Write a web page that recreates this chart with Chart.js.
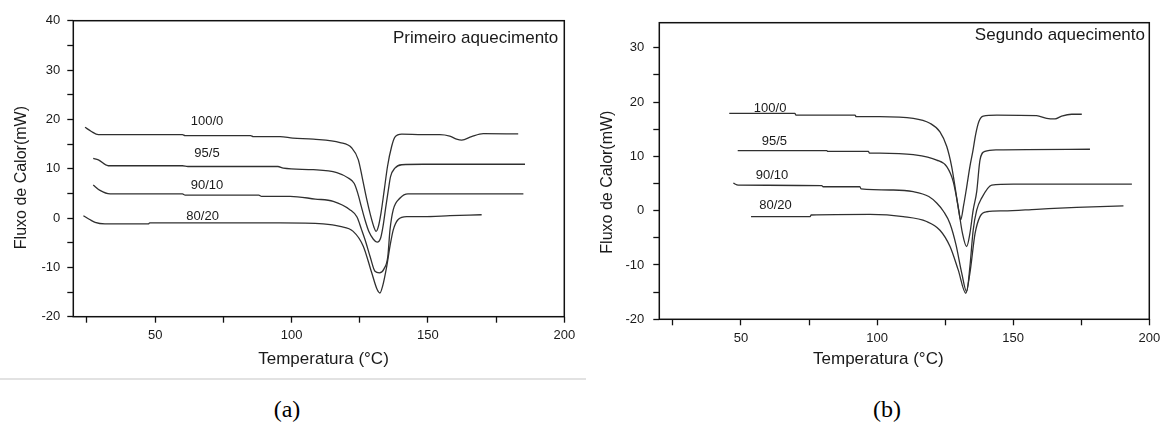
<!DOCTYPE html>
<html>
<head>
<meta charset="utf-8">
<script src="https://cdn.jsdelivr.net/npm/chart.js@4.4.1/dist/chart.umd.min.js"></script>
<style>
html,body{margin:0;padding:0;background:#fff;width:1161px;height:428px;overflow:hidden;position:relative;}
#ca{position:absolute;left:0;top:0;}
#cb{position:absolute;left:590px;top:0;}
.sep{position:absolute;left:0;top:378px;width:586px;height:2px;background:#e2e2e2;}
.cap{position:absolute;top:396px;width:80px;text-align:center;font-family:"Liberation Serif","Times New Roman",serif;font-size:24px;color:#000;}
</style>
</head>
<body>
<canvas id="ca" width="590" height="378"></canvas>
<canvas id="cb" width="580" height="378"></canvas>
<div class="sep"></div>
<div class="cap" style="left:247px">(a)</div>
<div class="cap" style="left:847px">(b)</div>
<script>
// ---------- data ----------
const seriesNames = ['100/0', '95/5', '90/10', '80/20'];

// (a) Primeiro aquecimento
const a100T = [24.3, 26.5, 29.2, 60, 61, 85, 86, 95.8, 100.5, 108, 117.8, 122.1, 124.5, 126.0, 127.5, 129.0, 130.2, 131.0, 131.8, 132.8, 134.0, 135.2, 136.7, 137.9, 140.4, 148, 154.4, 158, 160.5, 162.4, 166, 170.3, 183.1];
const a100F = [18.4, 17.6, 16.9, 16.9, 16.7, 16.7, 16.5, 16.5, 16.2, 16.0, 15.3, 14.2, 11.8, 8.0, 4.0, 0.5, -1.8, -2.7, -1.8, 1.0, 5.7, 10.5, 14.5, 16.4, 17.0, 16.9, 16.9, 16.6, 16.0, 15.8, 16.5, 17.1, 17.05];
const a95T = [27.3, 29.2, 32.8, 60, 62, 95, 97, 108, 116.6, 120.8, 123.0, 124.3, 125.6, 127.0, 128.4, 130.0, 131.4, 132.7, 133.6, 134.5, 135.5, 136.3, 137.9, 140.4, 148.3, 185.6];
const a95F = [12.1, 11.8, 10.6, 10.6, 10.45, 10.45, 10.1, 9.8, 9.2, 8.1, 7.0, 5.0, 2.3, -0.5, -2.8, -4.3, -4.9, -4.0, -1.5, 2.0, 5.7, 8.4, 10.1, 10.8, 10.9, 10.9];
const a90T = [27.3, 29.8, 33.5, 60, 61, 88, 89, 99.5, 108.7, 115.3, 121.4, 124.0, 125.7, 127.3, 128.8, 130.6, 132.2, 133.9, 135.3, 136.1, 137.3, 139.8, 142.7, 185.0];
const a90F = [6.7, 5.6, 4.9, 4.9, 4.65, 4.65, 4.4, 4.4, 3.85, 3.4, 1.7, 0.2, -2.4, -5.0, -7.8, -10.8, -11.1, -10.3, -7.8, -2.4, 1.7, 4.05, 4.9, 4.9];
const a80T = [23.7, 26, 28, 31.6, 47.5, 48, 95.8, 111.6, 117.8, 122.6, 126.3, 129.4, 131.4, 132.4, 133.4, 134.9, 136.1, 137.3, 139.1, 142.2, 148.3, 158.1, 169.7];
const a80F = [0.47, -0.3, -0.9, -1.2, -1.2, -1.0, -1.0, -1.2, -1.7, -2.7, -5.7, -11.1, -14.5, -15.2, -13.8, -9.8, -5.7, -2.4, -0.3, 0.3, 0.3, 0.47, 0.67];
const aLabelT = [69, 69, 69, 67.4];
const aLabelF = [19.5, 13.0, 6.6, 0.3];

// (b) Segundo aquecimento
const b100T = [45.7, 69.8, 70.2, 91.9, 92.3, 101, 113.3, 119.4, 123.1, 125.6, 127.4, 129.0, 130.0, 130.7, 131.8, 132.9, 134.1, 135.2, 136.2, 137.4, 139.0, 144.0, 158.6, 162.3, 165.4, 167.8, 171.5, 175.2];
const b100F = [17.9, 17.9, 17.6, 17.6, 17.3, 17.3, 17.0, 16.1, 14.5, 11.8, 8.1, 3.2, 0.0, -1.7, 1.0, 4.3, 8.1, 11.0, 14.0, 16.4, 17.4, 17.6, 17.5, 17.0, 16.9, 17.4, 17.75, 17.75];
const b95T = [48.8, 81.5, 81.9, 96.8, 97.2, 101, 113.3, 121.9, 125.6, 128.0, 129.8, 131.3, 132.9, 134.1, 135.3, 136.6, 137.8, 139.6, 144.0, 178.2];
const b95F = [11.05, 11.05, 10.9, 10.9, 10.6, 10.6, 10.3, 9.3, 8.1, 5.3, 0.7, -4.0, -6.6, -4.2, 0.1, 3.5, 9.3, 10.9, 11.2, 11.3];
const b90T = [47.2, 49.0, 79.7, 80.1, 93.7, 94.1, 106, 113.3, 119.0, 121.9, 124.5, 126.8, 129.0, 131.1, 132.9, 134.1, 135.3, 136.6, 138.4, 142.1, 150.1, 193.6];
const b90F = [5.05, 4.7, 4.6, 4.4, 4.4, 4.0, 3.8, 3.5, 2.6, 1.4, -0.2, -2.4, -6.3, -11.5, -14.9, -10.3, -3.6, 0.1, 2.3, 4.7, 4.9, 4.9];
const b80T = [53.7, 75.4, 75.8, 97.4, 109.6, 118.2, 123.1, 126.8, 129.8, 132.6, 134.1, 136.0, 137.8, 140.3, 146.4, 158.6, 173.3, 190.5];
const b80F = [-1.1, -1.1, -0.8, -0.7, -1.1, -2.0, -3.6, -6.6, -10.9, -15.2, -11.5, -4.2, -1.1, -0.2, -0.05, 0.25, 0.6, 0.87];
const bLabelT = [60.7, 62.3, 61.4, 62.7];
const bLabelF = [18.9, 12.8, 6.5, 0.9];

// ticks
const xTickVals = [25, 50, 75, 100, 125, 150, 175, 200];
const yTickValsA = [-20, -15, -10, -5, 0, 5, 10, 15, 20, 25, 30, 35, 40];
const yTickValsB = [-20, -15, -10, -5, 0, 5, 10, 15, 20, 25, 30];

// ---------- helpers ----------
const FONT = '"Liberation Sans", Arial, sans-serif';
const INK = '#1a1a1a';
const pts = (t, f) => t.map((v, i) => ({x: v, y: f[i]}));

const panelPlugin = {
  id: 'panel',
  afterDraw(chart, args, o) {
    const {ctx, chartArea: a} = chart;
    ctx.save();
    ctx.strokeStyle = '#111';
    ctx.lineWidth = 1.5;
    ctx.strokeRect(a.left, a.top, a.right - a.left, a.bottom - a.top);
    ctx.fillStyle = INK;
    ctx.font = '17px ' + FONT;
    ctx.textAlign = 'right';
    ctx.textBaseline = 'middle';
    ctx.fillText(o.heading, a.right - o.hdx, a.top + o.hdy);
    ctx.font = '13px ' + FONT;
    ctx.textAlign = 'center';
    const xs = chart.scales.x, ys = chart.scales.y;
    o.names.forEach((n, i) => ctx.fillText(n, xs.getPixelForValue(o.lx[i]), ys.getPixelForValue(o.ly[i])));
    ctx.restore();
  }
};

function makeChart(id, sets, cfg) {
  return new Chart(document.getElementById(id), {
    type: 'line',
    data: {
      datasets: sets.map((s, i) => ({
        label: seriesNames[i],
        data: s,
        borderColor: '#303030',
        borderWidth: 1.3,
        pointRadius: 0,
        fill: false,
        cubicInterpolationMode: 'monotone'
      }))
    },
    options: {
      responsive: false,
      animation: false,
      devicePixelRatio: 1,
      layout: {padding: {left: 0, top: cfg.padTop, right: cfg.padRight, bottom: 0}},
      plugins: {
        legend: {display: false},
        tooltip: {enabled: false},
        panel: {heading: cfg.heading, hdx: cfg.hdx, hdy: cfg.hdy, names: seriesNames, lx: cfg.lx, ly: cfg.ly}
      },
      scales: {
        x: {
          type: 'linear', min: 20, max: 200,
          afterBuildTicks: s => { s.ticks = xTickVals.map(v => ({value: v})); },
          afterFit: s => { s.height = cfg.xH; },
          border: {display: false},
          grid: {drawOnChartArea: false, drawTicks: true, tickLength: 6, tickColor: '#111', tickWidth: 1.3},
          ticks: {callback: v => (v % 50 === 0 ? String(v) : ''), color: INK, font: {family: FONT, size: 13}, padding: 5, maxRotation: 0, autoSkip: false},
          title: {display: true, text: cfg.xTitle, color: INK, font: {family: FONT, size: 17}, padding: {top: 2, bottom: 8.3}}
        },
        y: {
          type: 'linear', min: -20, max: cfg.yMax,
          afterBuildTicks: s => { s.ticks = cfg.yTicks.map(v => ({value: v})); },
          afterFit: s => { s.width = cfg.yW; },
          border: {display: false},
          grid: {drawOnChartArea: false, drawTicks: true, tickLength: 6, tickColor: '#111', tickWidth: 1.3},
          ticks: {callback: v => (v % 10 === 0 ? String(v) : ''), color: INK, font: {family: FONT, size: 13}, padding: cfg.yPad, autoSkip: false},
          title: {display: true, text: cfg.yTitle, color: INK, font: {family: FONT, size: 16}, padding: {top: cfg.yTitlePad, bottom: 0}}
        }
      }
    },
    plugins: [panelPlugin]
  });
}

makeChart('ca',
  [pts(a100T, a100F), pts(a95T, a95F), pts(a90T, a90F), pts(a80T, a80F)],
  {padTop: 20.7, padRight: 25.7, xH: 61.3, yW: 73.3, yMax: 40, yTicks: yTickValsA, yPad: 7, yTitlePad: 12,
   xTitle: '  Temperatura (°C)', yTitle: 'Fluxo de Calor(mW)    ',
   heading: 'Primeiro aquecimento', hdx: 6, hdy: 17.5, lx: aLabelT, ly: aLabelF});

makeChart('cb',
  [pts(b100T, b100F), pts(b95T, b95F), pts(b90T, b90F), pts(b80T, b80F)],
  {padTop: 22.7, padRight: 20.7, xH: 58.7, yW: 69.3, yMax: 34.6, yTicks: yTickValsB, yPad: 9, yTitlePad: 8,
   xTitle: 'Temperatura (°C)           ', yTitle: 'Fluxo de Calor(mW)     ',
   heading: 'Segundo aquecimento', hdx: 4.3, hdy: 12.3, lx: bLabelT, ly: bLabelF});
</script>
</body>
</html>
